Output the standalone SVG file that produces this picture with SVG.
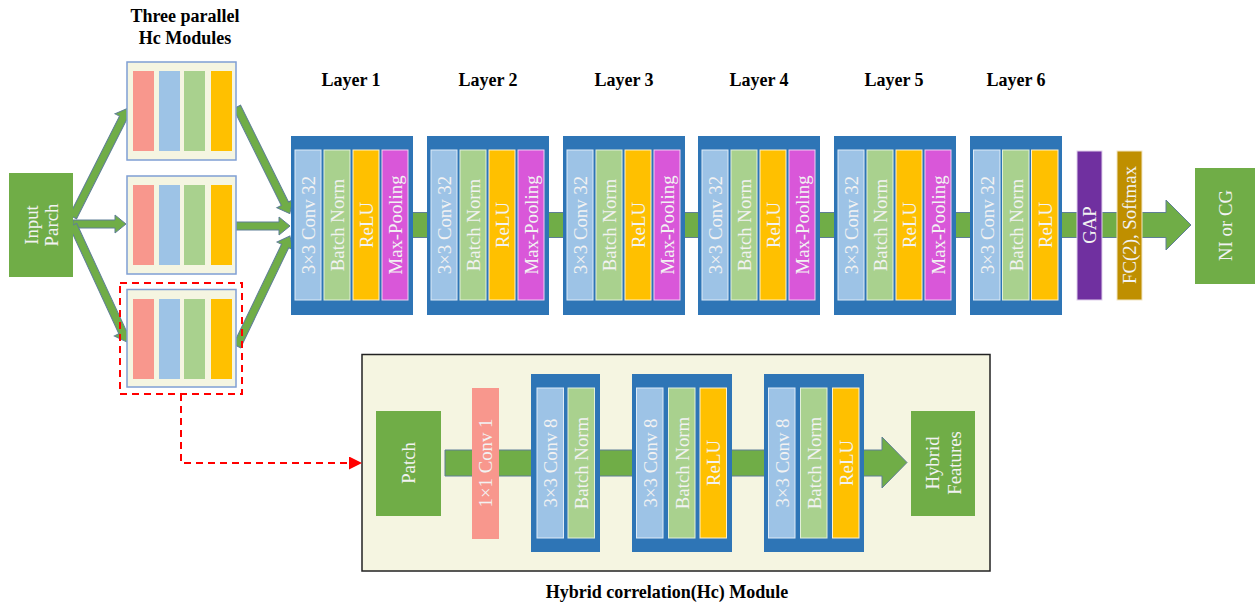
<svg xmlns="http://www.w3.org/2000/svg" width="1258" height="605" viewBox="0 0 1258 605">
<defs>
<style>
.title{font-family:"Liberation Serif",serif;font-weight:bold;font-size:18px;fill:#000;text-anchor:middle}
.lbl{font-family:"Liberation Serif",serif;font-size:18.8px;fill:#F2F2F2;text-anchor:middle}
.green{fill:#70AD47}
.arrow{fill:#70AD47;stroke:#5F7F96;stroke-width:1}
.blk{fill:#2E75B6}
.conv{fill:#9DC3E6;stroke:#DEEBF7;stroke-width:1}
.bn{fill:#A9D18E;stroke:#E2F0D9;stroke-width:1}
.relu{fill:#FFC000;stroke:#FFF2CC;stroke-width:1}
.mp{fill:#D957D9;stroke:#F2D0F2;stroke-width:1}
.pink{fill:#F8978D}
.hc{fill:#F5F5E1;stroke:#7F9FD4;stroke-width:1.5}
</style>
<marker id="redhead" markerWidth="13" markerHeight="13" refX="13" refY="6.5" orient="auto" markerUnits="userSpaceOnUse">
<polygon points="0,0 13,6.5 0,13" fill="#FF0000"/>
</marker>
</defs>
<rect width="1258" height="605" fill="#fff"/>

<g id="hc-module-box">
<rect x="362" y="354.5" width="628" height="216.5" fill="#F5F5E1" stroke="#222" stroke-width="1.5"/>
</g>

<g id="connectors">
<polygon class="arrow" transform="translate(73,217) rotate(-63.2)" points="0,-4 111,-4 111,-9 122,0 111,9 111,4 0,4"/>
<polygon class="arrow" transform="translate(73,224)" points="0,-4 42,-4 42,-9 53,0 42,9 42,4 0,4"/>
<polygon class="arrow" transform="translate(73,225) rotate(65.2)" points="0,-4 118,-4 118,-9 129,0 118,9 118,4 0,4"/>
<polygon class="arrow" transform="translate(237,107) rotate(63.65)" points="0,-4 108,-4 108,-9 119,0 108,9 108,4 0,4"/>
<polygon class="arrow" transform="translate(236,226)" points="0,-4 43,-4 43,-9 54,0 43,9 43,4 0,4"/>
<polygon class="arrow" transform="translate(237,346) rotate(-64.3)" points="0,-4 111,-4 111,-9 122,0 111,9 111,4 0,4"/>
<polygon class="arrow" points="410,212.5 1166,212.5 1166,200 1191,225 1166,250 1166,237.5 410,237.5"/>
<polygon class="arrow" points="445,450 882,450 882,437 907,462.5 882,488 882,476 445,476"/>
<path d="M181,394 V463 H362" fill="none" stroke="#FF0000" stroke-width="2" stroke-dasharray="7,5" marker-end="url(#redhead)"/>
</g>

<g id="titles">
<text class="title" x="185" y="22">Three parallel</text>
<text class="title" x="185" y="44">Hc Modules</text>
<text class="title" x="351" y="86">Layer 1</text>
<text class="title" x="488" y="86">Layer 2</text>
<text class="title" x="624" y="86">Layer 3</text>
<text class="title" x="759" y="86">Layer 4</text>
<text class="title" x="894" y="86">Layer 5</text>
<text class="title" x="1016" y="86">Layer 6</text>
<text class="title" x="667" y="598">Hybrid correlation(Hc) Module</text>
</g>

<g id="input">
<rect class="green" x="9" y="173" width="64" height="104"/>
<text class="lbl" transform="translate(41,225) rotate(-90)" y="-10" dy="0.35em">Input</text>
<text class="lbl" transform="translate(41,225) rotate(-90)" y="10" dy="0.35em">Parch</text>
</g>

<g id="hc1">
<rect class="hc" x="127" y="62" width="109" height="98"/>
<rect class="pink" x="133" y="71" width="21" height="80"/>
<rect fill="#9DC3E6" x="159" y="71" width="21" height="80"/>
<rect fill="#A9D18E" x="184" y="71" width="21" height="80"/>
<rect fill="#FFC000" x="211" y="71" width="21" height="80"/>
</g>
<g id="hc2">
<rect class="hc" x="127" y="176" width="109" height="98"/>
<rect class="pink" x="133" y="185" width="21" height="80"/>
<rect fill="#9DC3E6" x="159" y="185" width="21" height="80"/>
<rect fill="#A9D18E" x="184" y="185" width="21" height="80"/>
<rect fill="#FFC000" x="211" y="185" width="21" height="80"/>
</g>
<g id="hc3">
<rect class="hc" x="127" y="289.5" width="109" height="97.5"/>
<rect class="pink" x="133" y="299" width="21" height="80"/>
<rect fill="#9DC3E6" x="159" y="299" width="21" height="80"/>
<rect fill="#A9D18E" x="184" y="299" width="21" height="80"/>
<rect fill="#FFC000" x="211" y="299" width="21" height="80"/>
<rect x="120" y="283" width="122" height="111" fill="none" stroke="#FF0000" stroke-width="2" stroke-dasharray="7,5"/>
</g>

<g id="layer1">
<rect class="blk" x="291" y="136" width="122" height="179"/>
<rect class="conv" x="295" y="150" width="26" height="150"/>
<rect class="bn" x="324" y="150" width="26" height="150"/>
<rect class="relu" x="353" y="150" width="26" height="150"/>
<rect class="mp" x="382" y="150" width="26" height="150"/>
<text class="lbl" transform="translate(308,225) rotate(-90)" dy="0.35em">3×3 Conv 32</text>
<text class="lbl" transform="translate(337,225) rotate(-90)" dy="0.35em">Batch Norm</text>
<text class="lbl" transform="translate(366,225) rotate(-90)" dy="0.35em">ReLU</text>
<text class="lbl" transform="translate(395,225) rotate(-90)" dy="0.35em">Max-Pooling</text>
</g>
<g id="layer2">
<rect class="blk" x="427" y="136" width="122" height="179"/>
<rect class="conv" x="431" y="150" width="26" height="150"/>
<rect class="bn" x="460" y="150" width="26" height="150"/>
<rect class="relu" x="489" y="150" width="26" height="150"/>
<rect class="mp" x="518" y="150" width="26" height="150"/>
<text class="lbl" transform="translate(444,225) rotate(-90)" dy="0.35em">3×3 Conv 32</text>
<text class="lbl" transform="translate(473,225) rotate(-90)" dy="0.35em">Batch Norm</text>
<text class="lbl" transform="translate(502,225) rotate(-90)" dy="0.35em">ReLU</text>
<text class="lbl" transform="translate(531,225) rotate(-90)" dy="0.35em">Max-Pooling</text>
</g>
<g id="layer3">
<rect class="blk" x="563" y="136" width="122" height="179"/>
<rect class="conv" x="567" y="150" width="26" height="150"/>
<rect class="bn" x="596" y="150" width="26" height="150"/>
<rect class="relu" x="625" y="150" width="26" height="150"/>
<rect class="mp" x="654" y="150" width="26" height="150"/>
<text class="lbl" transform="translate(580,225) rotate(-90)" dy="0.35em">3×3 Conv 32</text>
<text class="lbl" transform="translate(609,225) rotate(-90)" dy="0.35em">Batch Norm</text>
<text class="lbl" transform="translate(638,225) rotate(-90)" dy="0.35em">ReLU</text>
<text class="lbl" transform="translate(667,225) rotate(-90)" dy="0.35em">Max-Pooling</text>
</g>
<g id="layer4">
<rect class="blk" x="698" y="136" width="122" height="179"/>
<rect class="conv" x="702" y="150" width="26" height="150"/>
<rect class="bn" x="731" y="150" width="26" height="150"/>
<rect class="relu" x="760" y="150" width="26" height="150"/>
<rect class="mp" x="789" y="150" width="26" height="150"/>
<text class="lbl" transform="translate(715,225) rotate(-90)" dy="0.35em">3×3 Conv 32</text>
<text class="lbl" transform="translate(744,225) rotate(-90)" dy="0.35em">Batch Norm</text>
<text class="lbl" transform="translate(773,225) rotate(-90)" dy="0.35em">ReLU</text>
<text class="lbl" transform="translate(802,225) rotate(-90)" dy="0.35em">Max-Pooling</text>
</g>
<g id="layer5">
<rect class="blk" x="834" y="136" width="122" height="179"/>
<rect class="conv" x="838" y="150" width="26" height="150"/>
<rect class="bn" x="867" y="150" width="26" height="150"/>
<rect class="relu" x="896" y="150" width="26" height="150"/>
<rect class="mp" x="925" y="150" width="26" height="150"/>
<text class="lbl" transform="translate(851,225) rotate(-90)" dy="0.35em">3×3 Conv 32</text>
<text class="lbl" transform="translate(880,225) rotate(-90)" dy="0.35em">Batch Norm</text>
<text class="lbl" transform="translate(909,225) rotate(-90)" dy="0.35em">ReLU</text>
<text class="lbl" transform="translate(938,225) rotate(-90)" dy="0.35em">Max-Pooling</text>
</g>
<g id="layer6">
<rect class="blk" x="970" y="136" width="92" height="179"/>
<rect class="conv" x="973.5" y="150" width="26.5" height="150"/>
<rect class="bn" x="1002.5" y="150" width="26.5" height="150"/>
<rect class="relu" x="1031.5" y="150" width="26.5" height="150"/>
<text class="lbl" transform="translate(987,225) rotate(-90)" dy="0.35em">3×3 Conv 32</text>
<text class="lbl" transform="translate(1016,225) rotate(-90)" dy="0.35em">Batch Norm</text>
<text class="lbl" transform="translate(1045,225) rotate(-90)" dy="0.35em">ReLU</text>
</g>
<g id="gap">
<rect x="1077" y="151" width="25" height="149" fill="#7030A0" stroke="#E0D0EC" stroke-width="1"/>
<text class="lbl" transform="translate(1089.5,225) rotate(-90)" dy="0.35em">GAP</text>
</g>
<g id="fc">
<rect x="1117" y="151" width="25" height="149" fill="#BF8F00" stroke="#F2E6C4" stroke-width="1"/>
<text class="lbl" transform="translate(1129.5,225) rotate(-90)" dy="0.35em">FC(2), Softmax</text>
</g>
<g id="output">
<rect class="green" x="1195" y="168" width="60" height="116"/>
<text class="lbl" transform="translate(1225,225.5) rotate(-90)" dy="0.35em">NI or CG</text>
</g>

<g id="patch">
<rect class="green" x="376" y="411" width="65" height="105"/>
<text class="lbl" transform="translate(408.5,463) rotate(-90)" dy="0.35em">Patch</text>
</g>
<g id="conv1x1">
<rect class="pink" x="472" y="388" width="27" height="151"/>
<text class="lbl" transform="translate(485.5,463) rotate(-90)" dy="0.35em">1×1 Conv 1</text>
</g>
<g id="hcblock1">
<rect class="blk" x="531" y="374" width="69" height="178"/>
<rect class="conv" x="537" y="388" width="26.5" height="150"/>
<rect class="bn" x="568" y="388" width="26.5" height="150"/>
<text class="lbl" transform="translate(550,463) rotate(-90)" dy="0.35em">3×3 Conv 8</text>
<text class="lbl" transform="translate(581,463) rotate(-90)" dy="0.35em">Batch Norm</text>
</g>
<g id="hcblock2">
<rect class="blk" x="632" y="374" width="100" height="178"/>
<rect class="conv" x="636.5" y="388" width="26.5" height="150"/>
<rect class="bn" x="668.5" y="388" width="26.5" height="150"/>
<rect class="relu" x="700" y="388" width="26.5" height="150"/>
<text class="lbl" transform="translate(650,463) rotate(-90)" dy="0.35em">3×3 Conv 8</text>
<text class="lbl" transform="translate(682,463) rotate(-90)" dy="0.35em">Batch Norm</text>
<text class="lbl" transform="translate(713,463) rotate(-90)" dy="0.35em">ReLU</text>
</g>
<g id="hcblock3">
<rect class="blk" x="764" y="374" width="100" height="178"/>
<rect class="conv" x="768.5" y="388" width="26.5" height="150"/>
<rect class="bn" x="800.5" y="388" width="26.5" height="150"/>
<rect class="relu" x="832.5" y="388" width="26.5" height="150"/>
<text class="lbl" transform="translate(782,463) rotate(-90)" dy="0.35em">3×3 Conv 8</text>
<text class="lbl" transform="translate(814,463) rotate(-90)" dy="0.35em">Batch Norm</text>
<text class="lbl" transform="translate(846,463) rotate(-90)" dy="0.35em">ReLU</text>
</g>
<g id="hybrid">
<rect class="green" x="911" y="411" width="64" height="105"/>
<text class="lbl" transform="translate(943,463) rotate(-90)" y="-11" dy="0.35em">Hybrid</text>
<text class="lbl" transform="translate(943,463) rotate(-90)" y="11" dy="0.35em">Features</text>
</g>
</svg>
